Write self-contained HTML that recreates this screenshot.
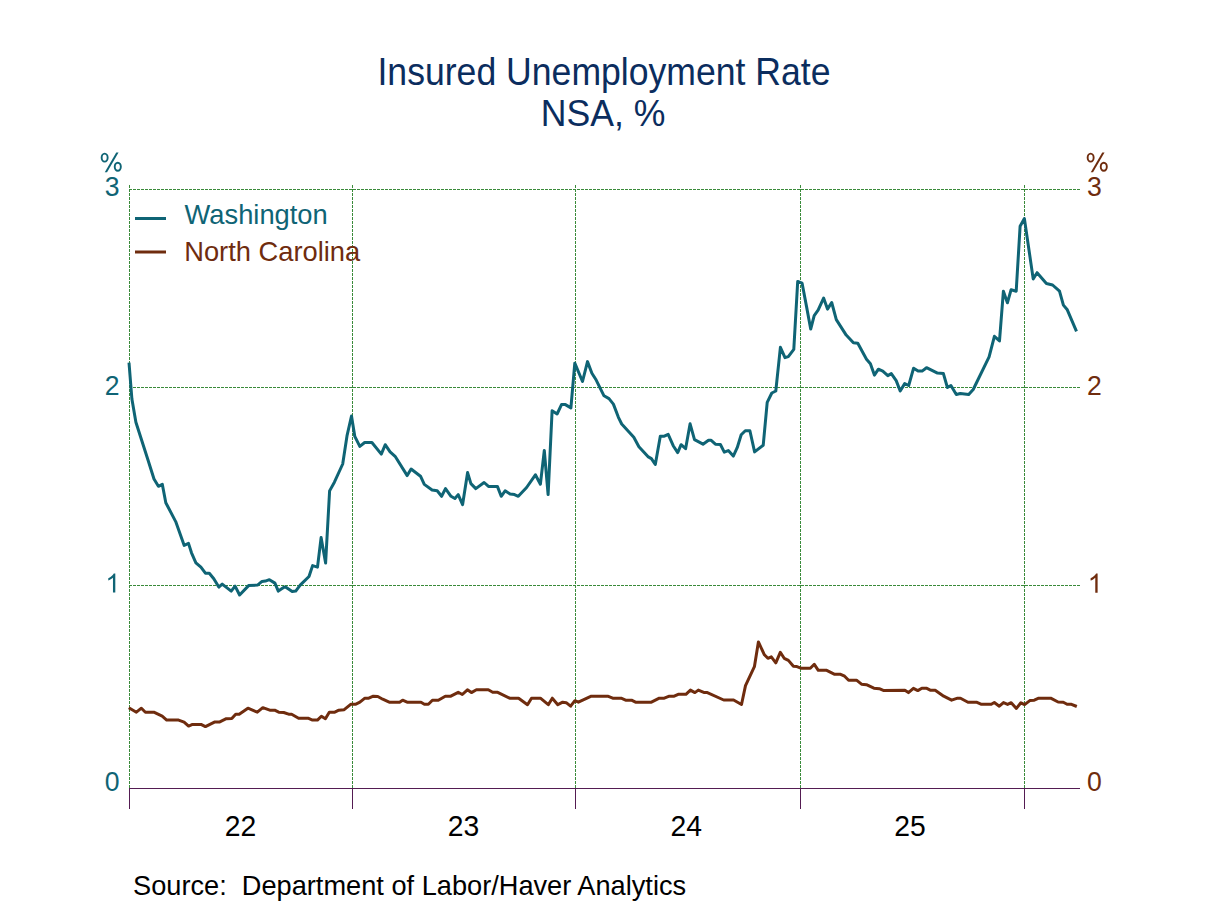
<!DOCTYPE html>
<html><head><meta charset="utf-8"><style>
html,body{margin:0;padding:0;background:#fff;width:1208px;height:906px;overflow:hidden}
svg{position:absolute;left:0;top:0;display:block}
text{font-family:"Liberation Sans",sans-serif}
</style></head><body>
<svg width="1208" height="906" viewBox="0 0 1208 906">
<rect width="1208" height="906" fill="#fff"/>
<g fill="#0b2d5e" font-size="35.6" text-anchor="middle">
<text transform="translate(604 85.2) scale(1 1.07)" >Insured Unemployment Rate</text>
<text transform="translate(603 126) scale(1 1.06)" >NSA, %</text>
</g>
<g stroke="#3a8a3a" stroke-width="1" stroke-dasharray="3 1" fill="none" shape-rendering="crispEdges">
<path d="M129 189.5H1080M129 387.5H1080M129 585.5H1080"/>
<path d="M129.5 185V788M352.5 185V788M575.5 185V788M800.5 185V788M1024.5 185V788"/>
</g>
<g stroke="#541c52" stroke-width="1" fill="none" shape-rendering="crispEdges">
<path d="M129 788.5H1080M129.5 788V809M352.5 788V809M575.5 788V809M800.5 788V809M1024.5 788V809"/>
</g>
<g font-size="26.6" fill="#0f6475" text-anchor="end">
<text transform="translate(119.5 195.5) scale(1 1.04)" >3</text>
<text transform="translate(119.5 394.5) scale(1 1.04)" >2</text>
<text transform="translate(119.5 790.5) scale(1 1.04)" >0</text>
</g>
<g font-size="26.6" fill="#6f2c0e" text-anchor="start">
<text transform="translate(1087 195.5) scale(1 1.04)" >3</text>
<text transform="translate(1087 394.5) scale(1 1.04)" >2</text>
<text transform="translate(1087 790.5) scale(1 1.04)" >0</text>
</g>
<g transform="translate(96 148)"><g fill="none" stroke="#0f6475" stroke-width="1.9"><ellipse cx="8.65" cy="9.64" rx="3.0" ry="4.0"/><ellipse cx="21.78" cy="18.75" rx="3.05" ry="4.0"/></g><path fill="#0f6475" d="M20.25 4.4H22.55L11.05 24.2H8.75Z"/></g>
<g transform="translate(1082 148)"><g fill="none" stroke="#6f2c0e" stroke-width="1.9"><ellipse cx="8.65" cy="9.64" rx="3.0" ry="4.0"/><ellipse cx="21.78" cy="18.75" rx="3.05" ry="4.0"/></g><path fill="#6f2c0e" d="M20.25 4.4H22.55L11.05 24.2H8.75Z"/></g>
<path fill="#0f6475" transform="translate(105.4 592.6) scale(0.012988 -0.013)" d="M763 0H583V1147Q518 1085 412 1023Q306 961 222 930V1104Q373 1175 486 1276Q599 1377 646 1472H763Z"/>
<path fill="#6f2c0e" transform="translate(1087.7 592.7) scale(0.012988 -0.013)" d="M763 0H583V1147Q518 1085 412 1023Q306 961 222 930V1104Q373 1175 486 1276Q599 1377 646 1472H763Z"/>
<g font-size="28.3" fill="#000" text-anchor="middle">
<text transform="translate(240.5 836) scale(1 1.04)" >22</text>
<text transform="translate(463.5 836) scale(1 1.04)" >23</text>
<text transform="translate(686.2 836) scale(1 1.04)" >24</text>
<text transform="translate(910 836) scale(1 1.04)" >25</text>
</g>
<text transform="translate(133 895) scale(1 1.025)" font-size="27.2" fill="#000" xml:space="preserve">Source:  Department of Labor/Haver Analytics</text>
<g stroke-width="3" fill="none">
<path d="M135 218.5H166" stroke="#0f6475"/>
<path d="M135 252H166" stroke="#6f2c0e"/>
</g>
<text transform="translate(184.6 224) scale(1 1.03)" font-size="27.3" fill="#0f6475">Washington</text>
<text transform="translate(184.2 260.9) scale(1 1.03)" font-size="27.3" fill="#6f2c0e">North Carolina</text>
<g fill="none" stroke-width="3" stroke-linejoin="round" stroke-linecap="butt">
<polyline stroke="#6f2c0e" points="128.8,707.7 136.4,712.2 141.4,708.2 145.4,712.2 153.8,712.2 162.2,716.2 166.7,720.1 178.6,720.1 184.1,722.1 188.6,726.1 192.5,724.4 201,724.4 205.4,726.6 214.4,722.1 219.3,722.1 226.3,718.7 231.8,718.5 235.7,714.2 239.2,714.2 247.9,708.2 257.3,712.2 262.8,707.7 269.8,710.2 274.7,710.2 278.7,712.2 283.7,712.5 288.6,714.2 291.6,714.2 298.6,718.2 308,718.2 312.5,720.1 317.4,720.1 321.4,716.2 325.4,718.7 329.3,712.2 334.8,712.2 338.8,710.2 344.2,709.7 351,704.2 355.9,704.2 359.9,702.2 364.9,698.2 368.8,698.2 373.3,696.2 377.8,696.5 382.7,699.2 389.2,702.2 399.6,702.2 402.6,700.2 407.1,702.2 421,702.2 424.4,704.2 428.4,704.2 432.4,700.2 438.3,700.2 445.3,696.2 450.8,696.2 458.2,692.3 462.3,694.5 467.4,689.8 471.4,692.6 476.4,689.8 488.3,689.8 492.7,692.3 497.7,692.3 509.6,698.2 518.6,698.2 527.5,704.7 531.5,698.2 540.4,698.2 548.3,704.7 552.3,698.2 557.8,704.7 562.7,702.2 566.2,702.7 570.6,706.2 574.9,700.7 578.4,702.2 591.3,696.2 607.7,696.2 612.7,698.2 621.1,698.2 625.6,700.2 631.5,700.2 635.5,702.2 651.4,702.2 659.3,698.2 664.3,698.2 669.3,696.2 674.2,696.2 678.2,694.3 685.9,694.3 690.4,690.1 694.9,692.6 698.3,690.1 703.8,692.4 706.8,692.4 723.7,700 733.6,700 741.5,704.5 745.5,685.6 754.4,666.7 758.4,641.9 764.4,654.8 767.9,658.3 771.3,656.8 775.8,662.8 780.3,652.3 784.2,658.3 788.4,660.4 793.4,666.3 796.9,666.6 801.4,668.3 810.3,668.3 814.3,664.3 818.3,670.3 826.7,670.3 834.7,674.3 840.6,674.3 844.6,676.2 848.6,680.2 856.5,680.2 861.5,684.2 866.4,684.7 873.9,688.2 879.3,688.7 883.3,690.4 904.9,690.3 908.4,692.6 913.4,688.3 917.8,690.6 921.8,688.3 926.8,688.3 930.7,690.3 935.2,690.3 943.7,696.2 951.6,700.2 957.6,698.2 960.5,698.2 968,702.2 976.4,702.2 980.9,704.2 991.3,704.2 994.3,702.5 999.3,706.2 1003.5,702.6 1007.6,704.4 1011.2,702.7 1016.4,708.4 1020.9,702.8 1024.6,704.6 1029.8,700.6 1034.3,700.2 1038.7,698.2 1050.7,698.2 1058.1,702 1063.3,702.2 1067.1,704.3 1071.5,704.3 1076.8,706.5"/>
<polyline stroke="#0f6475" points="129,362.6 131.9,399 135.9,422.2 148,460 154,479 158.4,486.3 162.3,484.3 165.8,502.7 175.7,521.6 184.2,545.4 188.5,543.4 191.5,552.8 195.9,562.8 200.9,567.2 205.4,573.2 209.3,573.2 213.8,578.7 218.8,587.1 222.2,584.1 231.2,591.1 235.1,586.1 239.6,595 248.6,585.6 257.5,585.1 262,581.4 265.4,581.1 269.4,579.7 274.9,583.1 278.3,591.1 284.3,587.1 286.3,587.4 292.2,591.4 295.7,591.1 300.2,585.1 309,576.5 312.6,565.6 317.5,567.1 321.1,537.6 325.6,563.1 329.6,490.9 334.4,482.2 342.7,464 347.1,435.3 351.5,416 354.8,436.4 359.8,446.4 364.7,442.5 371.9,442.5 381.3,454.1 385.2,444.7 390.1,451.9 395.1,456.3 407.2,475.6 411.1,469 420.5,476.2 424.3,484.4 432.1,490 437.2,490.8 441.6,496.3 445.5,488.6 451,496.3 454.9,498.5 458.2,494.6 462.6,504.6 467.6,472.6 470.9,483.6 475.8,488.6 484.1,482.5 488.5,486.4 497.4,486.4 501.2,496.3 505.1,490.8 510.1,494.1 514.5,494.6 518.3,496.3 526.6,487.5 535.4,474.8 540.4,484.2 544.3,450.5 548.1,494.6 552.1,410.7 557.1,414 561.5,404.6 565.4,404.6 570.9,407.9 574.8,363.2 582.5,381.5 587.5,361.6 591.9,373.2 595.7,379.2 604,395.8 609,398.6 613.4,404.1 618.4,417.3 621.7,424 633.8,437.2 638.9,446.7 647.9,456.6 651.4,458.6 655.3,464.5 660.3,436.2 664.3,436.2 668.2,434.3 673.2,445.7 677.7,452.6 681.1,444.7 685.6,448.7 690.1,423.8 694.5,439.7 703,444.2 708.5,440.2 710.9,440.2 715.4,444.2 720.4,444.5 724.3,452.1 728.3,450.6 733.3,456.1 737.2,447.7 741.2,434.8 745.3,430.7 749.9,430.7 754.6,451.9 763.2,445.3 767.2,402.3 771.8,393 775.8,391 780.4,347.3 785,357.7 788.3,356.6 793.8,349.4 797.7,281.5 802.1,283.2 806.5,306.4 810.7,329 814.2,315.7 818.1,310.2 823.6,298.1 827.5,309.1 831.7,302.5 836.3,319.6 846.2,335.1 853.4,342.8 857.8,343.3 866.5,359.2 870.4,363.7 874.4,375.1 878.4,369.2 882.8,371.1 887.8,375.6 891.3,373.6 896.2,380.6 900.2,391 904.7,383.6 908.7,385.5 913.6,368.2 918.1,371.1 922.1,371.1 926.5,367.7 937.5,373.1 943.4,373.6 947.4,387.5 950.9,385.5 956.3,394.5 960.3,393.5 968.7,394.5 973.2,389.5 989.1,356.8 994.4,336.3 999.5,340.9 1003.4,291.2 1007.4,302.8 1011.1,289.7 1016.2,291.2 1020.1,226.3 1024.4,218.6 1033.2,278.9 1037.1,272.7 1046.4,283.5 1052.6,285 1059.5,291.2 1063.4,305.1 1067.3,309.8 1076.5,331.4"/>
</g>
</svg>
</body></html>
